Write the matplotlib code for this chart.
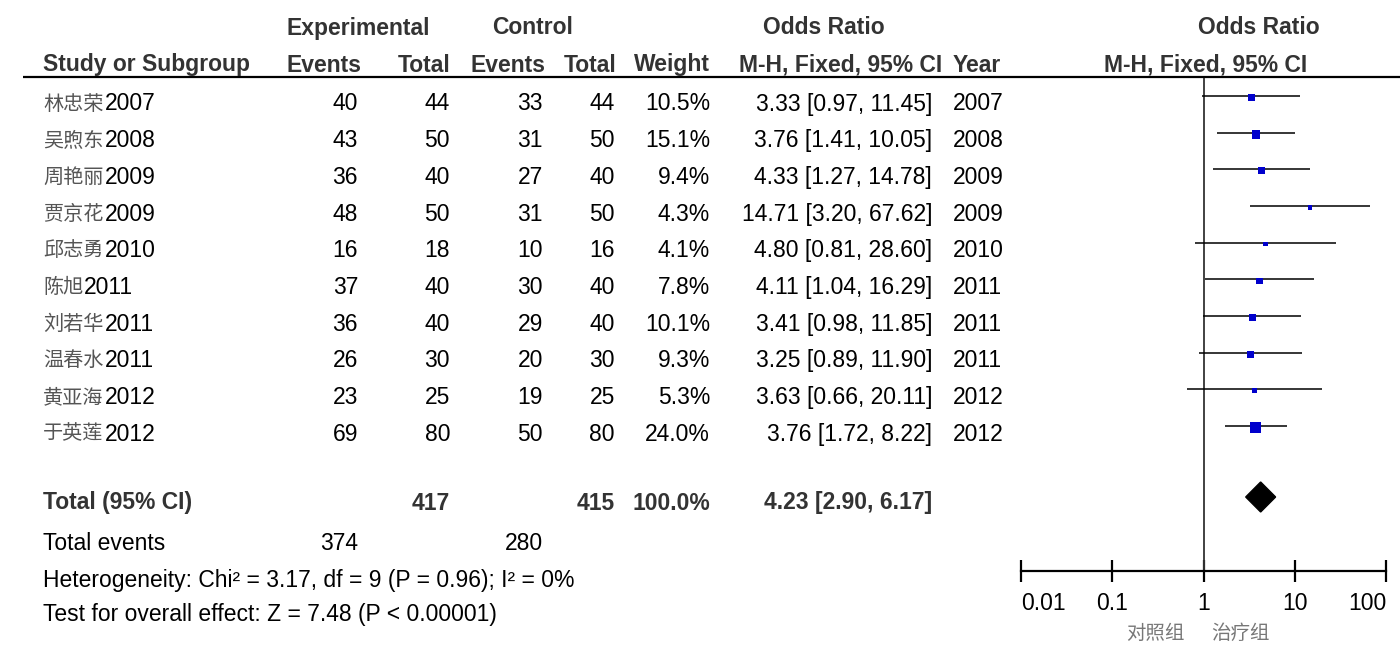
import matplotlib
matplotlib.use("Agg")
import matplotlib.pyplot as plt
from matplotlib.patches import Polygon
import numpy as np

studies = ['林忠荣2007', '吴煦东2008', '周艳丽2009', '贾京花2009', '邱志勇2010',
           '陈旭2011', '刘若华2011', '温春水2011', '黄亚海2012', '于英莲2012']
exp_events = [40, 43, 36, 48, 16, 37, 36, 26, 23, 69]
exp_total = [44, 50, 40, 50, 18, 40, 40, 30, 25, 80]
ctl_events = [33, 31, 27, 31, 10, 30, 29, 20, 19, 50]
ctl_total = [44, 50, 40, 50, 16, 40, 40, 30, 25, 80]
weights = [10.5, 15.1, 9.4, 4.3, 4.1, 7.8, 10.1, 9.3, 5.3, 24.0]
odds = [3.33, 3.76, 4.33, 14.71, 4.80, 4.11, 3.41, 3.25, 3.63, 3.76]
ci_low = [0.97, 1.41, 1.27, 3.20, 0.81, 1.04, 0.98, 0.89, 0.66, 1.72]
ci_high = [11.45, 10.05, 14.78, 67.62, 28.60, 16.29, 11.85, 11.90, 20.11, 8.22]
years = [2007, 2008, 2009, 2009, 2010, 2011, 2011, 2011, 2012, 2012]

total_or, total_lo, total_hi = 4.23, 2.90, 6.17
total_weight = 100.0
total_exp, total_ctl = 417, 415
total_exp_events, total_ctl_events = 374, 280
heterogeneity = 'Heterogeneity: Chi² = 3.17, df = 9 (P = 0.96); I² = 0%'
overall = 'Test for overall effect: Z = 7.48 (P < 0.00001)'
xticks = [0.01, 0.1, 1, 10, 100]
xticklabels = ['0.01', '0.1', '1', '10', '100']
favours = ['对照组', '治疗组']

W, H = 1400, 658
fig = plt.figure(figsize=(W / 100, H / 100), dpi=100)
bg = fig.add_axes([0, 0, 1, 1])
bg.set_xlim(0, W)
bg.set_ylim(H, 0)
bg.axis('off')

FONT = ['Liberation Sans', 'Noto Sans CJK SC', 'DejaVu Sans']
CJK = ['Noto Sans CJK SC', 'Liberation Sans']
FS = 16.5
HDR = '#333333'


def t(x, y, s, ha='left', bold=False, color='black', fam=FONT, fs=FS):
    return bg.text(x, y, s, ha=ha, va='center', fontsize=fs, family=fam,
                   fontweight='bold' if bold else 'normal', color=color)


# headers
t(358, 28, 'Experimental', 'center', True, HDR)
t(533, 28, 'Control', 'center', True, HDR)
t(824, 28, 'Odds Ratio', 'center', True, HDR)
t(1259, 28, 'Odds Ratio', 'center', True, HDR)
t(43, 65, 'Study or Subgroup', 'left', True, HDR)
t(362, 65, 'Events', 'right', True, HDR)
t(450, 65, 'Total', 'right', True, HDR)
t(545, 65, 'Events', 'right', True, HDR)
t(616, 65, 'Total', 'right', True, HDR)
t(710, 65, 'Weight', 'right', True, HDR)
t(942, 65, 'M-H, Fixed, 95% CI', 'right', True, HDR)
t(953, 65, 'Year', 'left', True, HDR)
t(1206, 65, 'M-H, Fixed, 95% CI', 'center', True, HDR)
bg.plot([23, 1400], [77, 77], color='black', lw=1.6, solid_capstyle='butt')

fig.canvas.draw()
renderer = fig.canvas.get_renderer()

row0, dy = 104, 36.67
rows_y = [row0 + i * dy for i in range(len(studies))]
for i, y in enumerate(rows_y):
    name = studies[i]
    cn = name[:-4]
    yr = name[-4:]
    txt = t(43, y, cn, 'left', fam=CJK, color='#555555', fs=FS - 2)
    bb = txt.get_window_extent(renderer=renderer)
    t(bb.x1 + 1, y, yr, 'left')
    t(358, y, str(exp_events[i]), 'right')
    t(450, y, str(exp_total[i]), 'right')
    t(543, y, str(ctl_events[i]), 'right')
    t(615, y, str(ctl_total[i]), 'right')
    t(710, y, f'{weights[i]:.1f}%', 'right')
    t(932, y, f'{odds[i]:.2f} [{ci_low[i]:.2f}, {ci_high[i]:.2f}]', 'right')
    t(953, y, str(years[i]), 'left')

# totals
ty = 503
t(43, ty, 'Total (95% CI)', 'left', True, HDR)
t(450, ty, str(total_exp), 'right', True, HDR)
t(615, ty, str(total_ctl), 'right', True, HDR)
t(710, ty, f'{total_weight:.1f}%', 'right', True, HDR)
t(932, ty, f'{total_or:.2f} [{total_lo:.2f}, {total_hi:.2f}]', 'right', True, HDR)
t(43, 543, 'Total events', 'left')
t(358, 543, str(total_exp_events), 'right')
t(543, 543, str(total_ctl_events), 'right')
t(43, 580, heterogeneity, 'left')
t(43, 615, overall, 'left')

# forest axes
x0, x1 = 1021, 1386
ytop, ybot = 78, 571
ax = fig.add_axes([x0 / W, 1 - ybot / H, (x1 - x0) / W, (ybot - ytop) / H])
ax.set_xscale('log')
ax.set_xlim(0.01, 100)
ax.set_ylim(ybot, ytop)
ax.patch.set_alpha(0)
for s in ['top', 'right', 'left']:
    ax.spines[s].set_visible(False)
ax.spines['bottom'].set_linewidth(1.6)
ax.set_yticks([])
ax.set_xticks(xticks)
ax.set_xticklabels(xticklabels, fontsize=FS, family=FONT)
labs = ax.get_xticklabels()
labs[0].set_horizontalalignment('left')
labs[-1].set_horizontalalignment('right')
ax.minorticks_off()
ax.tick_params(axis='x', direction='inout', length=16, width=1.6, pad=7)
ax.axvline(1, color='#333333', lw=1.3)

line_y = [y - 8 for y in rows_y]
ax.hlines(line_y, ci_low, ci_high, color='black', lw=1.1)
sides_px = 2.25 * np.sqrt(np.array(weights))
sizes_pt = sides_px * 72 / 100
ax.scatter(odds, np.array(line_y) + 1.5, marker='s', s=sizes_pt ** 2, color='#0000CC',
           edgecolors='none', zorder=3)

dyd = 497
half = 15
diamond = Polygon([(total_lo, dyd), (total_or, dyd - half), (total_hi, dyd), (total_or, dyd + half)],
                  closed=True, color='black')
ax.add_patch(diamond)

t(1155, 633, favours[0], 'center', fam=CJK, color='#777777', fs=FS - 2.5)
t(1240, 633, favours[1], 'center', fam=CJK, color='#777777', fs=FS - 2.5)

fig.savefig('out.png', dpi=100)
